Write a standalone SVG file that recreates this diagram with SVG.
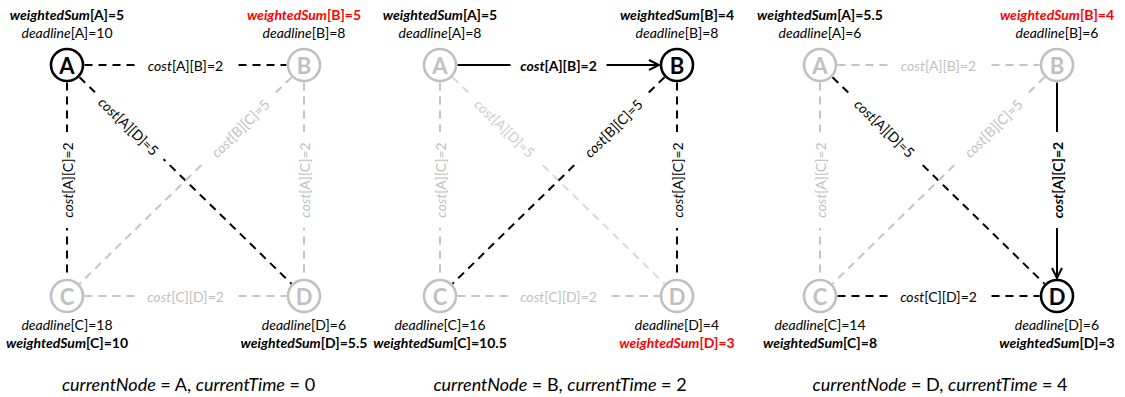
<svg xmlns="http://www.w3.org/2000/svg" width="1125" height="397" viewBox="0 0 1125 397">
  <style>
    text { font-family: Lato, "Open Sans", "Liberation Sans", sans-serif; }
    .it { font-style: italic; }
    .info { font-size: 14px; text-anchor: middle; fill: #000; }
    .ws { font-weight: bold; }
    .red { fill: #ff0000; }
    .nodeOn circle { fill: #fff; stroke: #000; stroke-width: 2.6; }
    .nodeOn .letter { fill: #000; }
    .nodeOff circle { fill: #fff; stroke: #c0c0c0; stroke-width: 2.6; }
    .nodeOff .letter { fill: #c0c0c0; }
    .letter { font-size: 22px; font-weight: bold; text-anchor: middle; dominant-baseline: central; }
    .eBlack { stroke: #000; stroke-width: 2; stroke-dasharray: 8 6; fill: none; }
    .eGray { stroke: #c4c4c4; stroke-width: 2; stroke-dasharray: 8 6; fill: none; }
    .eLight { stroke: #d9d9d9; stroke-width: 2; stroke-dasharray: 8 6; fill: none; }
    .eSolid { stroke: #000; stroke-width: 2; fill: none; marker-end: url(#arrow); }
    .lblBg { fill: #fff; }
    .lbl { font-size: 14px; text-anchor: middle; dominant-baseline: central; fill: #000; }
    .lblGray { fill: #bfbfbf; }
    .lblLight { fill: #cccccc; }
    .lblBold { font-weight: bold; }
    .caption { font-size: 18px; text-anchor: middle; fill: #000; }
  </style>
  <defs>
    <marker id="arrow" viewBox="0 0 12 12" refX="11" refY="6" markerWidth="12" markerHeight="12" markerUnits="userSpaceOnUse" orient="auto">
      <path d="M1,1 L11,6 L1,11" fill="none" stroke="#000" stroke-width="2"/>
    </marker>
  </defs>

  <!-- ===== Step 1: current node A, time 0 ===== -->
  <g id="step1" transform="translate(67,65)">
    <g id="step1-edges">
      <line class="eBlack" x1="17.5" y1="0" x2="219.5" y2="0"/>
      <line class="eBlack" x1="0" y1="17.5" x2="0" y2="213.5"/>
      <line class="eBlack" x1="12.5" y1="12.2" x2="224.5" y2="218.8"/>
      <line class="eGray" x1="224.5" y1="12.2" x2="12.5" y2="218.8"/>
      <line class="eGray" x1="237" y1="17.5" x2="237" y2="213.5"/>
      <line class="eGray" x1="17.5" y1="231" x2="219.5" y2="231"/>
      <g transform="translate(118.5,0)"><rect class="lblBg" x="-48" y="-8" width="96" height="16"/><text class="lbl"><tspan class="it">cost</tspan>[A][B]=2</text></g>
      <g transform="translate(0,115) rotate(-90)"><rect class="lblBg" x="-48" y="-8" width="96" height="16"/><text class="lbl"><tspan class="it">cost</tspan>[A][C]=2</text></g>
      <g transform="translate(62,61) rotate(44.3)"><rect class="lblBg" x="-48" y="-8" width="96" height="16"/><text class="lbl"><tspan class="it">cost</tspan>[A][D]=5</text></g>
      <g transform="translate(173,63) rotate(-44.3)"><rect class="lblBg" x="-48" y="-8" width="96" height="16"/><text class="lbl lblGray"><tspan class="it">cost</tspan>[B][C]=5</text></g>
      <g transform="translate(237,115) rotate(-90)"><rect class="lblBg" x="-48" y="-8" width="96" height="16"/><text class="lbl lblGray"><tspan class="it">cost</tspan>[A][C]=2</text></g>
      <g transform="translate(118.5,231)"><rect class="lblBg" x="-48" y="-8" width="96" height="16"/><text class="lbl lblGray"><tspan class="it">cost</tspan>[C][D]=2</text></g>
    </g>
    <g id="step1-A" class="nodeOn">
      <text class="info ws" x="0" y="-45"><tspan class="it">weightedSum</tspan>[A]=5</text>
      <text class="info" x="0" y="-27"><tspan class="it">deadline</tspan>[A]=10</text>
      <circle cx="0" cy="0" r="16"/><text class="letter" x="0" y="0">A</text>
    </g>
    <g id="step1-B" class="nodeOff">
      <text class="info ws red" x="237" y="-45"><tspan class="it">weightedSum</tspan>[B]=5</text>
      <text class="info" x="237" y="-27"><tspan class="it">deadline</tspan>[B]=8</text>
      <circle cx="237" cy="0" r="16"/><text class="letter" x="237" y="0">B</text>
    </g>
    <g id="step1-C" class="nodeOff">
      <circle cx="0" cy="231" r="16"/><text class="letter" x="0" y="231">C</text>
      <text class="info" x="0" y="265"><tspan class="it">deadline</tspan>[C]=18</text>
      <text class="info ws" x="0" y="283"><tspan class="it">weightedSum</tspan>[C]=10</text>
    </g>
    <g id="step1-D" class="nodeOff">
      <circle cx="237" cy="231" r="16"/><text class="letter" x="237" y="231">D</text>
      <text class="info" x="237" y="265"><tspan class="it">deadline</tspan>[D]=6</text>
      <text class="info ws" x="237" y="283"><tspan class="it">weightedSum</tspan>[D]=5.5</text>
    </g>
    <text class="caption" x="121.5" y="326"><tspan class="it">currentNode</tspan> = A, <tspan class="it">currentTime</tspan> = 0</text>
  </g>

  <!-- ===== Step 2: current node B, time 2 ===== -->
  <g id="step2" transform="translate(440,65)">
    <g id="step2-edges">
      <line class="eSolid" x1="17.5" y1="0" x2="219" y2="0"/>
      <line class="eGray" x1="0" y1="17.5" x2="0" y2="213.5"/>
      <line class="eLight" x1="12.5" y1="12.2" x2="224.5" y2="218.8"/>
      <line class="eBlack" x1="224.5" y1="12.2" x2="12.5" y2="218.8"/>
      <line class="eBlack" x1="237" y1="17.5" x2="237" y2="213.5"/>
      <line class="eGray" x1="17.5" y1="231" x2="219.5" y2="231"/>
      <g transform="translate(118.5,0)"><rect class="lblBg" x="-48" y="-8" width="96" height="16"/><text class="lbl lblBold"><tspan class="it">cost</tspan>[A][B]=2</text></g>
      <g transform="translate(0,115) rotate(-90)"><rect class="lblBg" x="-48" y="-8" width="96" height="16"/><text class="lbl lblGray"><tspan class="it">cost</tspan>[A][C]=2</text></g>
      <g transform="translate(65,63) rotate(44.3)"><rect class="lblBg" x="-48" y="-8" width="96" height="16"/><text class="lbl lblLight"><tspan class="it">cost</tspan>[A][D]=5</text></g>
      <g transform="translate(173,63) rotate(-44.3)"><rect class="lblBg" x="-48" y="-8" width="96" height="16"/><text class="lbl"><tspan class="it">cost</tspan>[B][C]=5</text></g>
      <g transform="translate(237,115) rotate(-90)"><rect class="lblBg" x="-48" y="-8" width="96" height="16"/><text class="lbl"><tspan class="it">cost</tspan>[A][C]=2</text></g>
      <g transform="translate(118.5,231)"><rect class="lblBg" x="-48" y="-8" width="96" height="16"/><text class="lbl lblGray"><tspan class="it">cost</tspan>[C][D]=2</text></g>
    </g>
    <g id="step2-A" class="nodeOff">
      <text class="info ws" x="0" y="-45"><tspan class="it">weightedSum</tspan>[A]=5</text>
      <text class="info" x="0" y="-27"><tspan class="it">deadline</tspan>[A]=8</text>
      <circle cx="0" cy="0" r="16"/><text class="letter" x="0" y="0">A</text>
    </g>
    <g id="step2-B" class="nodeOn">
      <text class="info ws" x="237" y="-45"><tspan class="it">weightedSum</tspan>[B]=4</text>
      <text class="info" x="237" y="-27"><tspan class="it">deadline</tspan>[B]=8</text>
      <circle cx="237" cy="0" r="16"/><text class="letter" x="237" y="0">B</text>
    </g>
    <g id="step2-C" class="nodeOff">
      <circle cx="0" cy="231" r="16"/><text class="letter" x="0" y="231">C</text>
      <text class="info" x="0" y="265"><tspan class="it">deadline</tspan>[C]=16</text>
      <text class="info ws" x="0" y="283"><tspan class="it">weightedSum</tspan>[C]=10.5</text>
    </g>
    <g id="step2-D" class="nodeOff">
      <circle cx="237" cy="231" r="16"/><text class="letter" x="237" y="231">D</text>
      <text class="info" x="237" y="265"><tspan class="it">deadline</tspan>[D]=4</text>
      <text class="info ws red" x="237" y="283"><tspan class="it">weightedSum</tspan>[D]=3</text>
    </g>
    <text class="caption" x="120" y="326"><tspan class="it">currentNode</tspan> = B, <tspan class="it">currentTime</tspan> = 2</text>
  </g>

  <!-- ===== Step 3: current node D, time 4 ===== -->
  <g id="step3" transform="translate(820,65)">
    <g id="step3-edges">
      <line class="eGray" x1="17.5" y1="0" x2="219.5" y2="0"/>
      <line class="eGray" x1="0" y1="17.5" x2="0" y2="213.5"/>
      <line class="eBlack" x1="12.5" y1="12.2" x2="224.5" y2="218.8"/>
      <line class="eGray" x1="224.5" y1="12.2" x2="12.5" y2="218.8"/>
      <line class="eSolid" x1="237" y1="17.5" x2="237" y2="213"/>
      <line class="eBlack" x1="17.5" y1="231" x2="219.5" y2="231"/>
      <g transform="translate(118.5,0)"><rect class="lblBg" x="-48" y="-8" width="96" height="16"/><text class="lbl lblGray"><tspan class="it">cost</tspan>[A][B]=2</text></g>
      <g transform="translate(0,115) rotate(-90)"><rect class="lblBg" x="-48" y="-8" width="96" height="16"/><text class="lbl lblGray"><tspan class="it">cost</tspan>[A][C]=2</text></g>
      <g transform="translate(65,63) rotate(44.3)"><rect class="lblBg" x="-48" y="-8" width="96" height="16"/><text class="lbl"><tspan class="it">cost</tspan>[A][D]=5</text></g>
      <g transform="translate(173,63) rotate(-44.3)"><rect class="lblBg" x="-48" y="-8" width="96" height="16"/><text class="lbl lblGray"><tspan class="it">cost</tspan>[B][C]=5</text></g>
      <g transform="translate(237,115) rotate(-90)"><rect class="lblBg" x="-48" y="-8" width="96" height="16"/><text class="lbl lblBold"><tspan class="it">cost</tspan>[A][C]=2</text></g>
      <g transform="translate(118.5,231)"><rect class="lblBg" x="-48" y="-8" width="96" height="16"/><text class="lbl"><tspan class="it">cost</tspan>[C][D]=2</text></g>
    </g>
    <g id="step3-A" class="nodeOff">
      <text class="info ws" x="0" y="-45"><tspan class="it">weightedSum</tspan>[A]=5.5</text>
      <text class="info" x="0" y="-27"><tspan class="it">deadline</tspan>[A]=6</text>
      <circle cx="0" cy="0" r="16"/><text class="letter" x="0" y="0">A</text>
    </g>
    <g id="step3-B" class="nodeOff">
      <text class="info ws red" x="237" y="-45"><tspan class="it">weightedSum</tspan>[B]=4</text>
      <text class="info" x="237" y="-27"><tspan class="it">deadline</tspan>[B]=6</text>
      <circle cx="237" cy="0" r="16"/><text class="letter" x="237" y="0">B</text>
    </g>
    <g id="step3-C" class="nodeOff">
      <circle cx="0" cy="231" r="16"/><text class="letter" x="0" y="231">C</text>
      <text class="info" x="0" y="265"><tspan class="it">deadline</tspan>[C]=14</text>
      <text class="info ws" x="0" y="283"><tspan class="it">weightedSum</tspan>[C]=8</text>
    </g>
    <g id="step3-D" class="nodeOn">
      <circle cx="237" cy="231" r="16"/><text class="letter" x="237" y="231">D</text>
      <text class="info" x="237" y="265"><tspan class="it">deadline</tspan>[D]=6</text>
      <text class="info ws" x="237" y="283"><tspan class="it">weightedSum</tspan>[D]=3</text>
    </g>
    <text class="caption" x="120" y="326"><tspan class="it">currentNode</tspan> = D, <tspan class="it">currentTime</tspan> = 4</text>
  </g>
</svg>
